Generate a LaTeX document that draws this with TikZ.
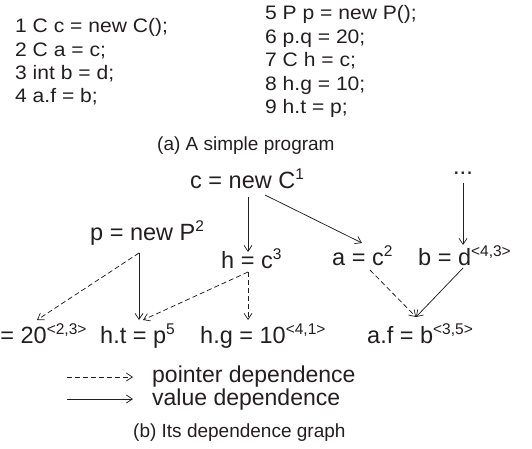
\documentclass[tikz,border=0pt]{standalone}
\usepackage{fontspec}
\setmainfont{Liberation Sans}
\newfontfamily\progfont[FakeStretch=1.08]{Liberation Sans}
\usetikzlibrary{arrows.meta,calc}
\definecolor{ink}{HTML}{231F20}
\newcommand\supx[1]{\raisebox{9pt}{\fontsize{15.5}{15.5}\selectfont #1}}
\tikzset{
  prog/.style={anchor=base west,inner sep=0pt,text=ink,font=\progfont\fontsize{19.5}{22}\selectfont},
  gnode/.style={anchor=base west,inner sep=0pt,text=ink,font=\fontsize{23.5}{26}\selectfont},
  capt/.style={anchor=base west,inner sep=0pt,text=ink,font=\fontsize{19}{22}\selectfont},
  valdep/.style={draw=ink,line width=0.75pt,-{Straight Barb[length=6pt,width=8pt,line width=0.7pt]}},
  ptrdep/.style={valdep,dash pattern=on 5pt off 3pt},
}
\begin{document}
\begin{tikzpicture}[x=1pt,y=-1pt]
\useasboundingbox (0,0) rectangle (532,449);
\clip (0,0) rectangle (532,449);
% program
\node[prog] (l1) at (15,33) {1 C c = new C();};
\node[prog] (l2) at (15,56.5) {2 C a = c;};
\node[prog] (l3) at (15,80) {3 int b = d;};
\node[prog] (l4) at (15,103) {4 a.f = b;};
\node[prog] (l5) at (265,20) {5 P p = new P();};
\node[prog] (l6) at (265,43.5) {6 p.q = 20;};
\node[prog] (l7) at (265,67) {7 C h = c;};
\node[prog] (l8) at (265,90.5) {8 h.g = 10;};
\node[prog] (l9) at (265,114) {9 h.t = p;};
\node[capt] (capa) at (157,151) {(a) A simple program};
% graph nodes
\node[gnode] (c) at (190,188) {c = new C\supx{1}};
\node[gnode,anchor=base] (dots) at (463,175) {...};
\node[gnode] (p) at (90,240) {p = new P\supx{2}};
\node[gnode] (h) at (221,268) {h = c\supx{3}};
\node[gnode] (a) at (332,265) {a = c\supx{2}};
\node[gnode] (b) at (418,265) {b = d\supx{<4,3>}};
\node[gnode] (pq) at (-39,343) {p.q = 20\supx{<2,3>}};
\node[gnode] (ht) at (100,343) {h.t = p\supx{5}};
\node[gnode] (hg) at (200,343) {h.g = 10\supx{<4,1>}};
\node[gnode] (af) at (367,343) {a.f = b\supx{<3,5>}};
% edges
\draw[valdep] ($(c.base west)+(58,9)$) -- ($(h.base west)+(27,-16)$);
\draw[valdep] ($(c.base west)+(75,7)$) -- ($(a.base west)+(30,-22)$);
\draw[valdep] ($(dots.base)+(0,8)$) -- ($(b.base west)+(45,-20)$);
\draw[ptrdep] ($(p.base west)+(49,13)$) -- ($(pq.base west)+(76,-23)$);
\draw[valdep] ($(p.base west)+(49,13)$) -- ($(ht.base west)+(39,-23)$);
\draw[ptrdep] ($(h.base west)+(27,4)$) -- ($(ht.base west)+(43,-23)$);
\draw[ptrdep] ($(h.base west)+(27,4)$) -- ($(hg.base west)+(48,-23)$);
\draw[ptrdep] ($(a.base west)+(38,5)$) -- ($(af.base west)+(49,-26)$);
\draw[valdep] ($(b.base west)+(45,3)$) -- ($(af.base west)+(49,-26)$);
% legend
\node[gnode,font=\fontsize{23}{26}\selectfont] (lp) at (152,382) {pointer dependence};
\node[gnode,font=\fontsize{23}{26}\selectfont] (lv) at (152,405) {value dependence};
\coordinate (lps) at (67,377);
\coordinate (lvs) at (67,399);
\draw[ptrdep] (lps) -- ($(lp.base west)+(-19,-5)$);
\draw[valdep] (lvs) -- ($(lv.base west)+(-19,-6)$);
\node[capt] (capb) at (133,437) {(b) Its dependence graph};
\end{tikzpicture}
\end{document}
